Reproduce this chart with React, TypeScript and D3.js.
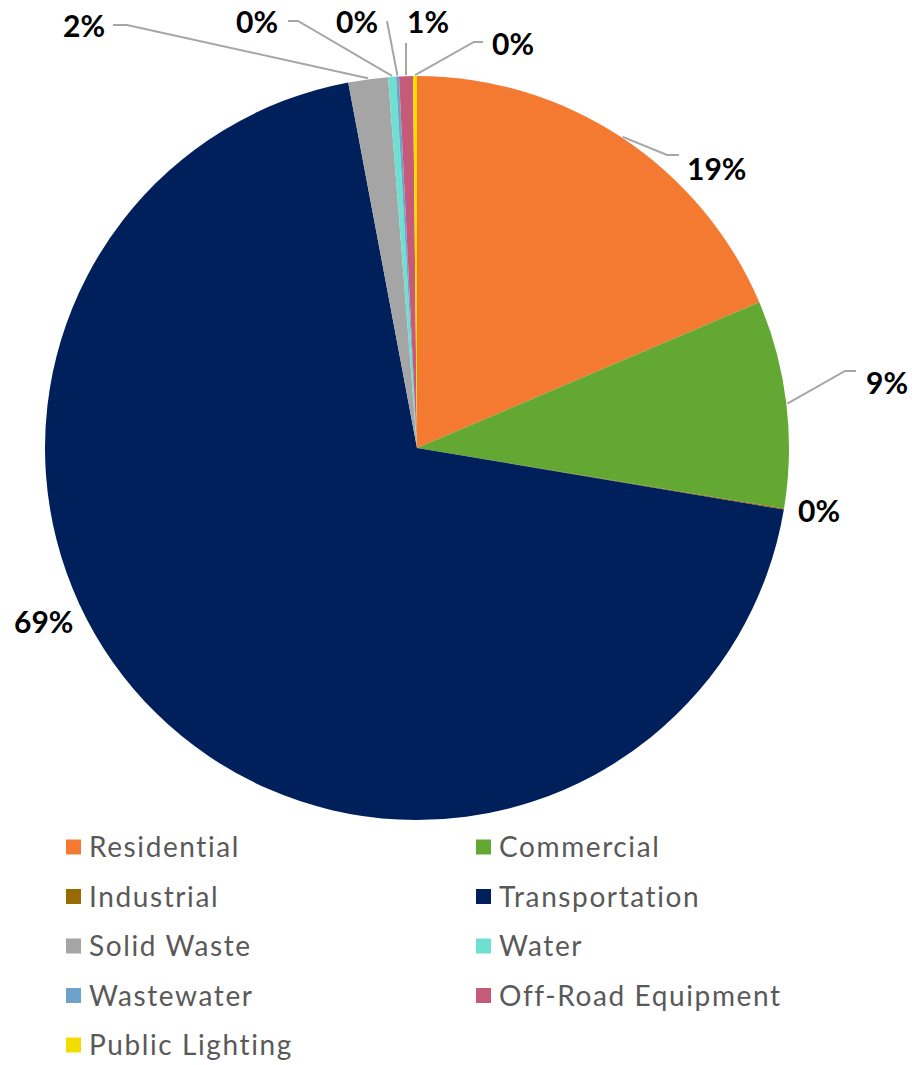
import React from "react";
import * as d3 from "d3";

const categories = [
  "Residential",
  "Commercial",
  "Industrial",
  "Transportation",
  "Solid Waste",
  "Water",
  "Wastewater",
  "Off-Road Equipment",
  "Public Lighting",
];
const shares = [18.6, 9.0, 0.05, 69.4, 1.72, 0.34, 0.13, 0.6, 0.17];
const colors = [
  "#F47A32",
  "#62A832",
  "#976B00",
  "#00205C",
  "#A5A5A5",
  "#6EE0D2",
  "#6FA2CB",
  "#C55B79",
  "#F3DD00",
];

// label layout: text start x, baseline y, leader path points (from label side toward slice)
const labelLayout: { x: number; y: number; leader: [number, number][] | null }[] = [
  { x: 687, y: 180, leader: [[679, 155], [667, 155]] },
  { x: 866, y: 394, leader: [[856, 371], [845, 371]] },
  { x: 798, y: 522, leader: null },
  { x: 14, y: 633, leader: null },
  { x: 63, y: 37, leader: [[113, 25], [127, 25]] },
  { x: 236, y: 33, leader: [[288, 21], [298, 21]] },
  { x: 336, y: 33, leader: [[387, 21]] },
  { x: 407, y: 33, leader: [[406, 43]] },
  { x: 492, y: 55, leader: [[483, 42], [474, 42]] },
];

const W = 912;
const H = 1065;
const cx = 417;
const cy = 448;
const R = 372;

export default function App() {
  const data = categories.map((c, i) => ({ name: c, value: shares[i], color: colors[i] }));
  const total = d3.sum(shares);
  const pie = d3
    .pie<any>()
    .sort(null)
    .value((d: any) => d.value);
  const arcs = pie(data);
  const arc = d3.arc<any>().innerRadius(0).outerRadius(R);

  const legendCols = [66, 476];
  const legendRow0 = 847;
  const legendStep = 49.5;

  return (
    <svg
      width={W}
      height={H}
      style={{ position: "absolute", left: 0, top: 0, background: "#fff" }}
    >
      <g transform={`translate(${cx},${cy})`}>
        {arcs.map((a, i) => (
          <path key={i} d={arc(a) as string} fill={data[i].color} />
        ))}
      </g>
      {arcs.map((a, i) => {
        const lay = labelLayout[i];
        const mid = (a.startAngle + a.endAngle) / 2;
        const ax = cx + Math.sin(mid) * (R + 1);
        const ay = cy - Math.cos(mid) * (R + 1);
        const pct = Math.round((data[i].value / total) * 100) + "%";
        let pts: [number, number][] = [];
        if (lay.leader) pts = [...lay.leader, [ax, ay]];
        return (
          <g key={i}>
            {lay.leader && (
              <path
                d={d3.line()(pts) as string}
                fill="none"
                stroke="#A6A6A6"
                strokeWidth={2}
              />
            )}
            <text
              x={lay.x}
              y={lay.y}
              fontFamily="Lato, 'DejaVu Sans', sans-serif"
              fontWeight={700}
              fontSize={30}
              fill="#000"
            >
              {pct}
            </text>
          </g>
        );
      })}
      {data.map((d, i) => {
        const col = i % 2;
        const row = Math.floor(i / 2);
        const x = legendCols[col];
        const y = legendRow0 + row * legendStep;
        return (
          <g key={d.name}>
            <rect x={x} y={y - 7.5} width={15} height={15} fill={d.color} />
            <text
              x={x + 23}
              y={y + 10}
              fontFamily="Lato, 'DejaVu Sans', sans-serif"
              fontSize={28}
              letterSpacing={1.6}
              fill="#595959"
            >
              {d.name}
            </text>
          </g>
        );
      })}
    </svg>
  );
}
